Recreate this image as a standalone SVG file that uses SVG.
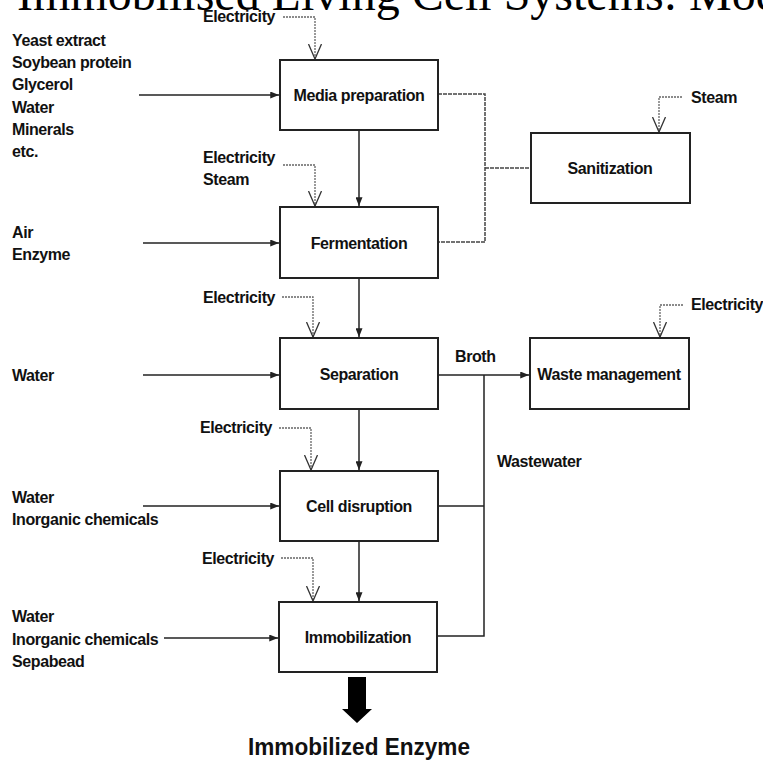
<svg xmlns="http://www.w3.org/2000/svg" width="763" height="764" viewBox="0 0 763 764">
<style>
text{font-family:"Liberation Sans",Arial,sans-serif;font-weight:bold;font-size:16px;letter-spacing:-0.4px;fill:#111}
.title{font-family:"Liberation Serif","Times New Roman",serif;font-weight:normal;font-size:48px;letter-spacing:0;fill:#000}
.prod{font-weight:bold;font-size:24px;letter-spacing:0}
.box{fill:#fff;stroke:#222;stroke-width:2}
.flow{fill:none;stroke:#222;stroke-width:1.5}
.util{fill:none;stroke:#666;stroke-width:1.3;stroke-dasharray:2,1}
.san{fill:none;stroke:#444;stroke-width:1.5;stroke-dasharray:4,1}
.c{text-anchor:middle}
</style>
<defs>
<marker id="solid" viewBox="0 0 10 8" refX="10" refY="4" markerWidth="9" markerHeight="7" markerUnits="userSpaceOnUse" orient="auto">
<path d="M0,0 L10,4 L0,8 Z" fill="#222"/>
</marker>
<marker id="vee" viewBox="0 0 16 14" refX="15" refY="7" markerWidth="16" markerHeight="14" markerUnits="userSpaceOnUse" orient="auto">
<path d="M0,0.5 L15,7 L0,13.5" fill="none" stroke="#333" stroke-width="1.3"/>
</marker>
</defs>
<rect width="763" height="764" fill="#fff"/>
<text class="title" x="17" y="10">Immobilised Living Cell Systems: Mod</text>

<g id="connectors">
<path class="flow" d="M139,95 H279" marker-end="url(#solid)"/>
<path class="flow" d="M143,243 H279" marker-end="url(#solid)"/>
<path class="flow" d="M143,375 H279" marker-end="url(#solid)"/>
<path class="flow" d="M143,506 H279" marker-end="url(#solid)"/>
<path class="flow" d="M164,638 H278" marker-end="url(#solid)"/>
<path class="flow" d="M359,130 V206" marker-end="url(#solid)"/>
<path class="flow" d="M359,278 V337" marker-end="url(#solid)"/>
<path class="flow" d="M359,409 V470" marker-end="url(#solid)"/>
<path class="flow" d="M359,541 V601" marker-end="url(#solid)"/>
<path class="flow" d="M438,375 H529" marker-end="url(#solid)"/>
<path class="flow" d="M484,375 V636 H437"/>
<path class="flow" d="M438,506 H484"/>
<path class="san" d="M438,94 H485 V242 H438"/>
<path class="san" d="M485,168 H531"/>
<path class="util" d="M283,17 H315 V59" marker-end="url(#vee)"/>
<path class="util" d="M283,165 H315 V206" marker-end="url(#vee)"/>
<path class="util" d="M282,297 H313 V337" marker-end="url(#vee)"/>
<path class="util" d="M279,428 H311 V470" marker-end="url(#vee)"/>
<path class="util" d="M281,558 H313 V601" marker-end="url(#vee)"/>
<path class="util" d="M682,97 H659 V132" marker-end="url(#vee)"/>
<path class="util" d="M683,305 H660 V337" marker-end="url(#vee)"/>
</g>

<g id="media-inputs">
<text x="12" y="46">Yeast extract</text>
<text x="12" y="68">Soybean protein</text>
<text x="12" y="90">Glycerol</text>
<text x="12" y="113">Water</text>
<text x="12" y="135">Minerals</text>
<text x="12" y="157">etc.</text>
</g>
<g id="fermentation-inputs">
<text x="12" y="238">Air</text>
<text x="12" y="260">Enzyme</text>
</g>
<g id="separation-inputs"><text x="12" y="381">Water</text></g>
<g id="cell-inputs">
<text x="12" y="503">Water</text>
<text x="12" y="525">Inorganic chemicals</text>
</g>
<g id="immob-inputs">
<text x="12" y="622">Water</text>
<text x="12" y="645">Inorganic chemicals</text>
<text x="12" y="667">Sepabead</text>
</g>
<g id="utilities">
<text x="203" y="22">Electricity</text>
<text x="203" y="163">Electricity</text>
<text x="203" y="185">Steam</text>
<text x="203" y="303">Electricity</text>
<text x="200" y="433">Electricity</text>
<text x="202" y="564">Electricity</text>
<text x="691" y="103">Steam</text>
<text x="691" y="310">Electricity</text>
</g>

<g id="media-preparation"><rect class="box" x="280" y="60" width="158" height="70"/><text class="c" x="359" y="101">Media preparation</text></g>
<g id="fermentation"><rect class="box" x="280" y="207" width="158" height="71"/><text class="c" x="359" y="249">Fermentation</text></g>
<g id="separation"><rect class="box" x="280" y="338" width="158" height="71"/><text class="c" x="359" y="380">Separation</text></g>
<g id="cell-disruption"><rect class="box" x="280" y="471" width="158" height="70"/><text class="c" x="359" y="512">Cell disruption</text></g>
<g id="immobilization"><rect class="box" x="279" y="602" width="158" height="70"/><text class="c" x="358" y="643">Immobilization</text></g>
<g id="sanitization"><rect class="box" x="531" y="133" width="159" height="70"/><text class="c" x="610" y="174">Sanitization</text></g>
<g id="waste-management"><rect class="box" x="530" y="338" width="159" height="71"/><text class="c" x="609" y="380">Waste management</text></g>

<g id="flow-labels">
<text x="455" y="362">Broth</text>
<text x="497" y="467">Wastewater</text>
</g>

<g id="product">
<polygon points="348,677 366,677 366,709 372,709 357,723 342,709 348,709" fill="#000"/>
<text class="prod" x="248" y="755" textLength="222" lengthAdjust="spacingAndGlyphs">Immobilized Enzyme</text>
</g>
</svg>
